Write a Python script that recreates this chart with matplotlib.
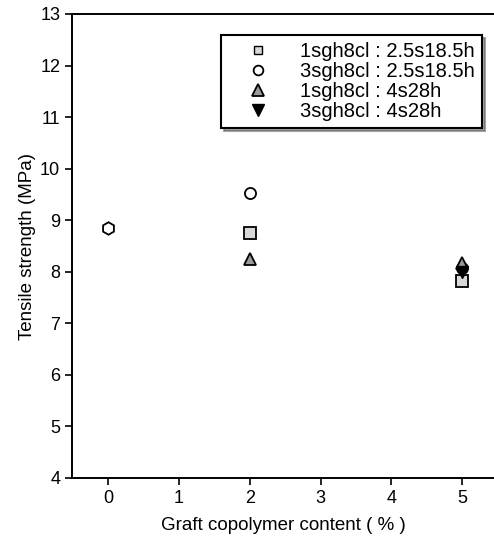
import matplotlib.pyplot as plt
from matplotlib.lines import Line2D

plt.rcParams['font.family'] = ['Liberation Sans', 'DejaVu Sans']

# data
x_blank = [0]
y_blank = [8.84]

x_sq = [2, 5]        # 1sgh8cl : 2.5s18.5h
y_sq = [8.76, 7.82]
x_ci = [2, 5]        # 3sgh8cl : 2.5s18.5h
y_ci = [9.52, 8.08]
x_tu = [2, 5]        # 1sgh8cl : 4s28h
y_tu = [8.25, 8.17]
x_td = [5]           # 3sgh8cl : 4s28h
y_td = [8.0]

labels = ['1sgh8cl : 2.5s18.5h', '3sgh8cl : 2.5s18.5h',
          '1sgh8cl : 4s28h', '3sgh8cl : 4s28h']

fig = plt.figure(figsize=(4.94, 5.36), dpi=100)
ax = fig.add_axes([72 / 494, 1 - 478 / 536, 1 - 72 / 494, (478 - 14) / 536])

ax.plot(x_blank, y_blank, 'h', ms=9, mfc='white', mec='black', mew=1.3, ls='none')
ax.plot(x_sq, y_sq, 's', ms=8, mfc='#d8d8d8', mec='black', mew=1.3, ls='none')
ax.plot(x_ci, y_ci, 'o', ms=8, mfc='white', mec='black', mew=1.3, ls='none')
ax.plot(x_tu, y_tu, '^', ms=9, mfc='#9a9a9a', mec='black', mew=1.3, ls='none')
ax.plot(x_td, y_td, 'v', ms=9, mfc='black', mec='black', ls='none')

ax.set_xlim(-0.51, 5.45)
ax.set_ylim(4, 13)
ax.set_xticks(range(0, 6))
ax.set_yticks(range(4, 14))
ax.tick_params(direction='out', length=5, width=1.2, labelsize=13)
ax.spines['right'].set_visible(False)
for s in ['left', 'bottom', 'top']:
    ax.spines[s].set_linewidth(1.4)

ax.set_xlabel('Graft copolymer content ( % )', fontsize=13.5, labelpad=7)
ax.set_ylabel('Tensile strength (MPa)', fontsize=13.5, labelpad=3)

handles = [
    Line2D([], [], marker='s', ms=6, mfc='#d8d8d8', mec='black', ls='none'),
    Line2D([], [], marker='o', ms=7, mfc='white', mec='black', mew=1.3, ls='none'),
    Line2D([], [], marker='^', ms=8, mfc='#9a9a9a', mec='black', mew=1.3, ls='none'),
    Line2D([], [], marker='v', ms=9, mfc='black', mec='black', ls='none'),
]
leg = ax.legend(handles, labels, loc='upper right', bbox_to_anchor=(0.972, 0.955),
                borderaxespad=0, fontsize=14.5, frameon=True, fancybox=False,
                shadow=True, handletextpad=0.6, labelspacing=0.05,
                borderpad=0.35, handlelength=3.0)
leg.get_frame().set_edgecolor('black')
leg.get_frame().set_linewidth(1.5)

fig.savefig('out.png', dpi=100)
